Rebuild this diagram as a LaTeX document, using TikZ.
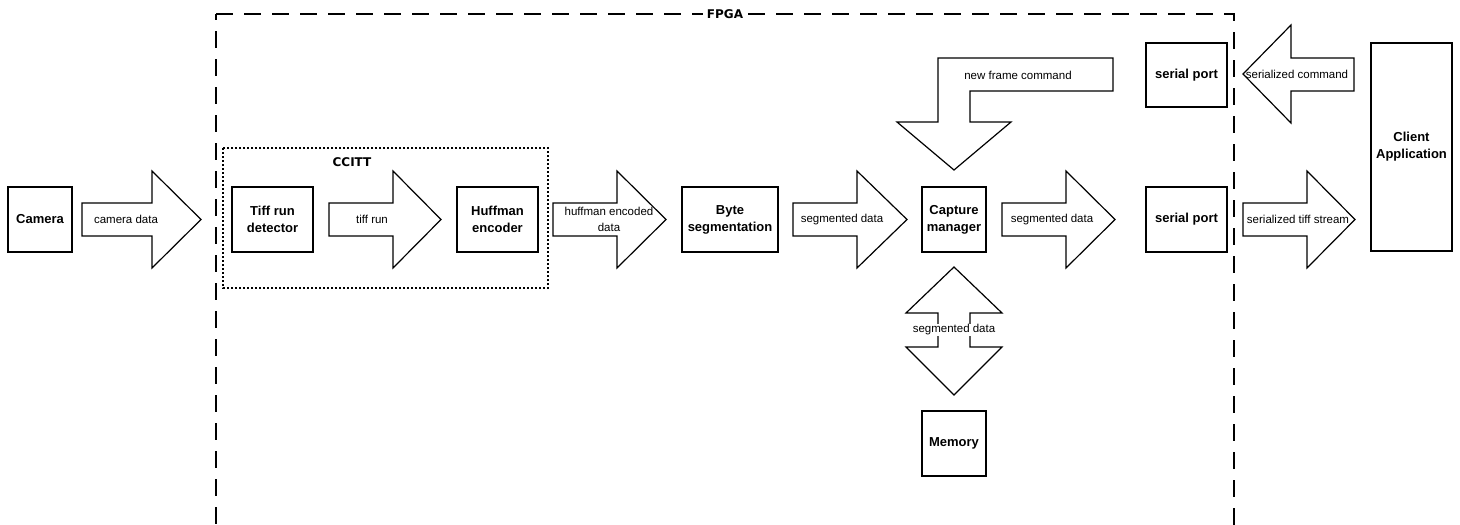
\documentclass[tikz,border=0pt]{standalone}
\usepackage{fontspec}
\setmainfont{Liberation Sans}
\newfontfamily\djv{DejaVu Sans}
\begin{document}
\begin{tikzpicture}[x=1pt,y=-1pt,
  box/.style={draw,line width=1.2pt,align=center,inner sep=1pt,font=\bfseries\fontsize{13}{17}\selectfont},
  blk/.style={draw,line width=1.2pt,line join=miter},
  lbl/.style={inner sep=1pt,align=center,font=\fontsize{11.5}{16}\selectfont},
  fpga/.style={draw,line width=1.3pt,dash pattern=on 17pt off 11pt},
  ccitt/.style={draw,line width=1.3pt,dash pattern=on 2pt off 2pt},
  title/.style={inner sep=2pt,font=\djv\bfseries\fontsize{12}{14}\selectfont}]
\useasboundingbox (0,0) rectangle (1460,525);
\newcommand{\rblock}[4]{%
  \draw[blk] (#1,#4-16.5) -- (#2,#4-16.5) -- (#2,#4-48.5) -- (#3,#4) -- (#2,#4+48.5) -- (#2,#4+16.5) -- (#1,#4+16.5) -- cycle;}
% FPGA region
\draw[fpga,dash phase=11pt] (216,14) -- (216,540);
\draw[fpga] (216,14) -- (1234,14) -- (1234,540);
\node[title,fill=white,inner xsep=4pt] (fpgalbl) at (725,14) {FPGA};
% CCITT region
\draw[ccitt] (223,148) rectangle (548,288);
\node[title] (ccittlbl) at (352,162) {CCITT};
% boxes
\node[box,minimum width=64pt,minimum height=65pt] (cam) at (40,219.5) {Camera};
\node[box,minimum width=81pt,minimum height=65pt] (tiff) at (272.5,219.5) {Tiff run\\detector};
\node[box,minimum width=81pt,minimum height=65pt] (huff) at (497.5,219.5) {Huffman\\encoder};
\node[box,minimum width=96pt,minimum height=65pt] (byte) at (730,219.5) {Byte\\segmentation};
\node[box,minimum width=64pt,minimum height=65pt] (cap) at (954,219.5) {Capture\\manager};
\node[box,minimum width=64pt,minimum height=65pt] (mem) at (954,443.5) {Memory};
\node[box,minimum width=81pt,minimum height=65pt] (sp2) at (1186.5,219.5) {serial port};
\node[box,minimum width=81pt,minimum height=64pt] (sp1) at (1186.5,75) {serial port};
\node[box,minimum width=81pt,minimum height=208pt] (client) at (1411.5,147) {Client\\Application};
% block arrows
\rblock{82}{152}{201}{219.5}
\node[lbl] (a1) at (126,219.5) {camera data};
\rblock{329}{393}{441}{219.5}
\node[lbl] (a2) at (372,219.5) {tiff run};
\rblock{553}{617}{666}{219.5}
\node[lbl] (a3) at (609,219.5) {huffman encoded\\data};
\rblock{793}{857}{907}{219.5}
\node[lbl] (a4) at (842,219.5) {segmented data};
\rblock{1002}{1066}{1115}{219.5}
\node[lbl] (a5) at (1052,219.5) {segmented data};
\rblock{1243}{1307}{1355}{219.5}
\node[lbl] (a6) at (1298,219.5) {serialized tiff stream};
% serialized command (left)
\draw[blk] (1354,58) -- (1291,58) -- (1291,25) -- (1243,74) -- (1291,123) -- (1291,91) -- (1354,91) -- cycle;
\node[lbl] (a7) at (1297,74) {serialized command};
% new frame command (bent)
\draw[blk] (1113,58) -- (938,58) -- (938,122) -- (897,122) -- (954,170) -- (1011,122) -- (970,122) -- (970,91) -- (1113,91) -- cycle;
\node[lbl] (a8) at (1018,75) {new frame command};
% double arrow
\draw[blk] (954,267) -- (1002,313) -- (970,313) -- (970,347) -- (1002,347) -- (954,395) -- (906,347) -- (938,347) -- (938,313) -- (906,313) -- cycle;
\node[lbl,fill=white] (a9) at (954,330) {segmented data};
\end{tikzpicture}
\end{document}
